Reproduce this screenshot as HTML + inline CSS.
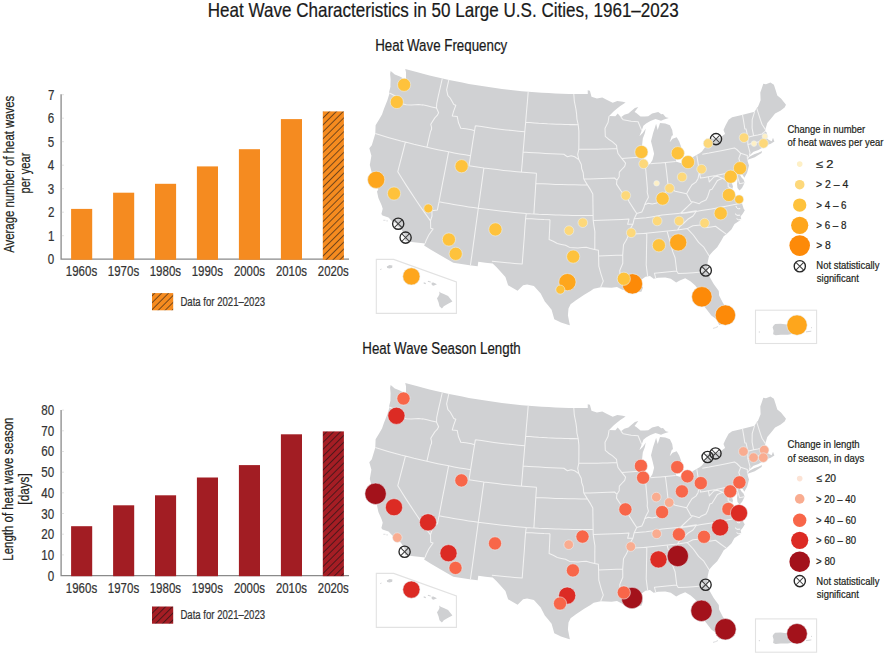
<!DOCTYPE html><html><head><meta charset="utf-8"><title>Heat Wave Characteristics</title><style>html,body{margin:0;padding:0;background:#fff;width:884px;height:653px;overflow:hidden}</style></head><body><svg width="884" height="653" viewBox="0 0 884 653" style="display:block;font-family:'Liberation Sans', sans-serif"><defs><pattern id="hatchO" patternUnits="userSpaceOnUse" width="4.88" height="4.88" patternTransform="rotate(45)"><rect width="4.88" height="4.88" fill="#f68b1f"/><rect x="3.9" width="1.0" height="4.88" fill="#74461a"/></pattern><pattern id="hatchR" patternUnits="userSpaceOnUse" width="4.88" height="4.88" patternTransform="rotate(45)"><rect width="4.88" height="4.88" fill="#a51d24"/><rect x="3.9" width="1.0" height="4.88" fill="#4d171a"/></pattern></defs><rect width="884" height="653" fill="#ffffff"/><text x="207.8" y="17.3" font-size="20.3" fill="#1a1a1a" stroke="#1a1a1a" stroke-width="0.22" textLength="470.94" lengthAdjust="spacingAndGlyphs">Heat Wave Characteristics in 50 Large U.S. Cities, 1961–2023</text><text x="375.21" y="51.2" font-size="16.3" fill="#1a1a1a" stroke="#1a1a1a" stroke-width="0.22" textLength="132.01" lengthAdjust="spacingAndGlyphs">Heat Wave Frequency</text><text x="362.31" y="354.2" font-size="16.3" fill="#1a1a1a" stroke="#1a1a1a" stroke-width="0.22" textLength="158.45" lengthAdjust="spacingAndGlyphs">Heat Wave Season Length</text><path d="M61.1 94.3V259.2H349" stroke="#8a8a8a" stroke-width="1.3" fill="none"/><text x="47.8" y="264.2" font-size="14.5" fill="#333333" stroke="#333333" stroke-width="0.22" textLength="6.45" lengthAdjust="spacingAndGlyphs">0</text><path d="M61.8 235.7H64" stroke="#d0d0d0" stroke-width="0.6"/><text x="47.92" y="240.7" font-size="14.5" fill="#333333" stroke="#333333" stroke-width="0.22" textLength="6.45" lengthAdjust="spacingAndGlyphs">1</text><path d="M61.8 212.2H64" stroke="#d0d0d0" stroke-width="0.6"/><text x="47.93" y="217.2" font-size="14.5" fill="#333333" stroke="#333333" stroke-width="0.22" textLength="6.45" lengthAdjust="spacingAndGlyphs">2</text><path d="M61.8 188.7H64" stroke="#d0d0d0" stroke-width="0.6"/><text x="47.86" y="193.7" font-size="14.5" fill="#333333" stroke="#333333" stroke-width="0.22" textLength="6.45" lengthAdjust="spacingAndGlyphs">3</text><path d="M61.8 165.2H64" stroke="#d0d0d0" stroke-width="0.6"/><text x="47.69" y="170.2" font-size="14.5" fill="#333333" stroke="#333333" stroke-width="0.22" textLength="6.45" lengthAdjust="spacingAndGlyphs">4</text><path d="M61.8 141.7H64" stroke="#d0d0d0" stroke-width="0.6"/><text x="47.84" y="146.7" font-size="14.5" fill="#333333" stroke="#333333" stroke-width="0.22" textLength="6.45" lengthAdjust="spacingAndGlyphs">5</text><path d="M61.8 118.2H64" stroke="#d0d0d0" stroke-width="0.6"/><text x="47.86" y="123.2" font-size="14.5" fill="#333333" stroke="#333333" stroke-width="0.22" textLength="6.45" lengthAdjust="spacingAndGlyphs">6</text><path d="M61.8 94.7H64" stroke="#d0d0d0" stroke-width="0.6"/><text x="47.93" y="99.7" font-size="14.5" fill="#333333" stroke="#333333" stroke-width="0.22" textLength="6.45" lengthAdjust="spacingAndGlyphs">7</text><rect x="71.1" y="208.9" width="21.1" height="50.9" fill="#f58b20"/><text x="65.83" y="276.3" font-size="14.2" fill="#333333" stroke="#333333" stroke-width="0.22" textLength="31.29" lengthAdjust="spacingAndGlyphs">1960s</text><rect x="113.1" y="192.7" width="21.1" height="67.1" fill="#f58b20"/><text x="107.83" y="276.3" font-size="14.2" fill="#333333" stroke="#333333" stroke-width="0.22" textLength="31.29" lengthAdjust="spacingAndGlyphs">1970s</text><rect x="155.0" y="183.8" width="21.1" height="76.0" fill="#f58b20"/><text x="149.73" y="276.3" font-size="14.2" fill="#333333" stroke="#333333" stroke-width="0.22" textLength="31.29" lengthAdjust="spacingAndGlyphs">1980s</text><rect x="196.9" y="166.4" width="21.1" height="93.4" fill="#f58b20"/><text x="191.63" y="276.3" font-size="14.2" fill="#333333" stroke="#333333" stroke-width="0.22" textLength="31.29" lengthAdjust="spacingAndGlyphs">1990s</text><rect x="238.9" y="149.2" width="21.1" height="110.6" fill="#f58b20"/><text x="233.93" y="276.3" font-size="14.2" fill="#333333" stroke="#333333" stroke-width="0.22" textLength="30.98" lengthAdjust="spacingAndGlyphs">2000s</text><rect x="280.9" y="119.1" width="21.1" height="140.7" fill="#f58b20"/><text x="275.93" y="276.3" font-size="14.2" fill="#333333" stroke="#333333" stroke-width="0.22" textLength="30.98" lengthAdjust="spacingAndGlyphs">2010s</text><rect x="322.8" y="111.4" width="21.1" height="148.4" fill="url(#hatchO)"/><text x="317.83" y="276.3" font-size="14.2" fill="#333333" stroke="#333333" stroke-width="0.22" textLength="30.98" lengthAdjust="spacingAndGlyphs">2020s</text><rect x="152" y="293.1" width="21.2" height="17.2" fill="url(#hatchO)"/><text x="180.41" y="306.0" font-size="12.3" fill="#333333" stroke="#333333" stroke-width="0.22" textLength="84.71" lengthAdjust="spacingAndGlyphs">Data for 2021–2023</text><text transform="translate(13.6,252.8) rotate(-90)" x="-0.02" y="0" font-size="15" fill="#231f20" stroke="#231f20" stroke-width="0.22" textLength="157.03" lengthAdjust="spacingAndGlyphs">Average number of heat waves</text><text transform="translate(29.8,192.8) rotate(-90)" x="-0.72" y="0" font-size="15" fill="#231f20" stroke="#231f20" stroke-width="0.22" textLength="40.9" lengthAdjust="spacingAndGlyphs">per year</text><path d="M61.1 410.1V575.6H349" stroke="#8a8a8a" stroke-width="1.3" fill="none"/><text x="47.8" y="580.6" font-size="14.5" fill="#333333" stroke="#333333" stroke-width="0.22" textLength="6.45" lengthAdjust="spacingAndGlyphs">0</text><path d="M61.8 554.9H64" stroke="#d0d0d0" stroke-width="0.6"/><text x="41.35" y="559.91" font-size="14.5" fill="#333333" stroke="#333333" stroke-width="0.22" textLength="12.9" lengthAdjust="spacingAndGlyphs">10</text><path d="M61.8 534.2H64" stroke="#d0d0d0" stroke-width="0.6"/><text x="41.35" y="539.22" font-size="14.5" fill="#333333" stroke="#333333" stroke-width="0.22" textLength="12.9" lengthAdjust="spacingAndGlyphs">20</text><path d="M61.8 513.5H64" stroke="#d0d0d0" stroke-width="0.6"/><text x="41.35" y="518.53" font-size="14.5" fill="#333333" stroke="#333333" stroke-width="0.22" textLength="12.9" lengthAdjust="spacingAndGlyphs">30</text><path d="M61.8 492.8H64" stroke="#d0d0d0" stroke-width="0.6"/><text x="41.35" y="497.84" font-size="14.5" fill="#333333" stroke="#333333" stroke-width="0.22" textLength="12.9" lengthAdjust="spacingAndGlyphs">40</text><path d="M61.8 472.2H64" stroke="#d0d0d0" stroke-width="0.6"/><text x="41.35" y="477.15" font-size="14.5" fill="#333333" stroke="#333333" stroke-width="0.22" textLength="12.9" lengthAdjust="spacingAndGlyphs">50</text><path d="M61.8 451.5H64" stroke="#d0d0d0" stroke-width="0.6"/><text x="41.35" y="456.46" font-size="14.5" fill="#333333" stroke="#333333" stroke-width="0.22" textLength="12.9" lengthAdjust="spacingAndGlyphs">60</text><path d="M61.8 430.8H64" stroke="#d0d0d0" stroke-width="0.6"/><text x="41.35" y="435.77" font-size="14.5" fill="#333333" stroke="#333333" stroke-width="0.22" textLength="12.9" lengthAdjust="spacingAndGlyphs">70</text><path d="M61.8 410.1H64" stroke="#d0d0d0" stroke-width="0.6"/><text x="41.35" y="415.08" font-size="14.5" fill="#333333" stroke="#333333" stroke-width="0.22" textLength="12.9" lengthAdjust="spacingAndGlyphs">80</text><rect x="71.1" y="526.2" width="21.1" height="50.0" fill="#a21d23"/><text x="65.83" y="592.7" font-size="14.2" fill="#333333" stroke="#333333" stroke-width="0.22" textLength="31.29" lengthAdjust="spacingAndGlyphs">1960s</text><rect x="113.1" y="505.3" width="21.1" height="70.9" fill="#a21d23"/><text x="107.83" y="592.7" font-size="14.2" fill="#333333" stroke="#333333" stroke-width="0.22" textLength="31.29" lengthAdjust="spacingAndGlyphs">1970s</text><rect x="155.0" y="495.3" width="21.1" height="80.9" fill="#a21d23"/><text x="149.73" y="592.7" font-size="14.2" fill="#333333" stroke="#333333" stroke-width="0.22" textLength="31.29" lengthAdjust="spacingAndGlyphs">1980s</text><rect x="196.9" y="477.5" width="21.1" height="98.7" fill="#a21d23"/><text x="191.63" y="592.7" font-size="14.2" fill="#333333" stroke="#333333" stroke-width="0.22" textLength="31.29" lengthAdjust="spacingAndGlyphs">1990s</text><rect x="238.9" y="465.1" width="21.1" height="111.1" fill="#a21d23"/><text x="233.93" y="592.7" font-size="14.2" fill="#333333" stroke="#333333" stroke-width="0.22" textLength="30.98" lengthAdjust="spacingAndGlyphs">2000s</text><rect x="280.9" y="434.3" width="21.1" height="141.9" fill="#a21d23"/><text x="275.93" y="592.7" font-size="14.2" fill="#333333" stroke="#333333" stroke-width="0.22" textLength="30.98" lengthAdjust="spacingAndGlyphs">2010s</text><rect x="322.8" y="431.4" width="21.1" height="144.8" fill="url(#hatchR)"/><text x="317.83" y="592.7" font-size="14.2" fill="#333333" stroke="#333333" stroke-width="0.22" textLength="30.98" lengthAdjust="spacingAndGlyphs">2020s</text><rect x="152" y="606.5" width="21.2" height="17.2" fill="url(#hatchR)"/><text x="180.41" y="619.4" font-size="12.3" fill="#333333" stroke="#333333" stroke-width="0.22" textLength="84.71" lengthAdjust="spacingAndGlyphs">Data for 2021–2023</text><text transform="translate(13.3,559.7) rotate(-90)" x="-0.94" y="0" font-size="15" fill="#231f20" stroke="#231f20" stroke-width="0.22" textLength="143.08" lengthAdjust="spacingAndGlyphs">Length of heat wave season</text><text transform="translate(29.4,503.8) rotate(-90)" x="-0.84" y="0" font-size="15" fill="#231f20" stroke="#231f20" stroke-width="0.22" textLength="31.38" lengthAdjust="spacingAndGlyphs">[days]</text><g id="mapbase"><path d="M390.7 71.1L394.8 74.5L399.9 76.6L402.6 78.1L402.4 82.7L399.6 86.1L402.2 85.8L404.1 82.7L406 78.5L406 72.3L405.2 69L410.9 70.6L416.6 72.1L423 73.8L429.5 75.5L436 77L442.6 78.5L449.1 80L455.7 81.3L462.2 82.6L468.8 83.9L475.4 85L482 86.1L488.6 87.1L495.3 88.1L501.9 89L508.6 89.8L515.2 90.5L521.9 91.2L528.6 91.8L535.2 92.3L541.9 92.8L548.6 93.1L555.3 93.5L562 93.7L568.7 93.9L575.4 94L581.6 94L587.8 94L587.7 90.2L589.9 90.8L591.5 96.7L596.9 98.6L602.3 97.5L607.1 100L612.7 102.8L617.3 101L622.8 101.7L625.6 102.6L620.3 105.9L617.1 108.6L613.8 111.2L609.1 116L615.4 116.2L617.7 113.6L621 117.2L624.3 114.7L628.4 113.4L631 111.2L634.9 107.9L638.3 107.1L634.5 111.9L636 112.8L640.5 116.5L644.7 116.6L648.2 116.2L652.1 113.5L658.2 111.9L661.3 114.3L663 114.1L665.8 117.3L668.8 117.9L664 119.5L661 120.7L655.5 119L650.4 121.1L646.1 123.5L643.4 125.8L641.7 130.5L639.4 136.3L642.7 133L645.8 128.6L644.8 133.3L642.8 138.5L642.2 144.2L641.4 151.4L643.5 158.8L644.5 163L646.3 165.5L650 164.1L652.5 160L654.1 153.7L652.8 148.3L651 141.3L652.1 137.1L653.1 133L654.6 128.4L656.1 123.8L657.7 129.9L660 123L665.3 123.4L669.9 125.3L672.2 129.9L673 135.3L671.8 135.8L669.7 142.2L672.6 138.8L676.7 137.2L679.2 141.5L681.3 147.3L680.6 151.5L677.7 154.7L677 158.1L675.6 161.4L681.5 163.2L685.2 162.4L688.8 161.6L693.4 156.8L699.6 153.2L701.9 151.5L704.5 147.9L707 144.3L705.3 140.7L709 139.6L712.6 138.5L715.7 138.9L720.6 137.4L723.2 135.3L725.1 133.9L723.5 130.1L725.5 125.5L728.6 119.7L732.1 117.3L736.5 116.3L740.8 115.2L747.7 113.5L754.6 111.7L756.7 108.1L758 106.7L760.6 100.2L760.3 92.5L761.8 88.2L763.3 83.8L765.9 84.3L770.4 82.6L773.9 84.7L775.6 90.1L777.3 95.5L781 98.4L786 104.8L784.6 107.4L780.4 110.8L775.1 113.4L771.3 118.2L767.3 123L765.3 129.4L765.1 131.3L767.1 133.1L765 136.8L769 139.9L771.7 141.3L773 137.8L774.4 141.4L770.8 143.7L766.6 145.3L764.5 146.4L758.4 149.9L753.5 151.8L749.3 155.5L747.3 158.5L747.7 161.6L749 165.5L747.1 172.7L744.3 177.7L742.9 175.2L739.8 173.8L738.3 172.1L740.2 175.3L741.5 177.6L743.5 179.5L744.5 182.2L744 184L742 188L739.5 190.5L737.5 188L737 184L737.5 180L736 176L733 177L731.5 181.9L733 186.5L732 190L734 194L737 197.6L740.6 199.7L742.1 203.8L743.7 208.8L744.8 210.3L742.9 213.4L740.6 216.4L741.4 219.5L739.1 221L734.5 224.1L731.4 229.4L726.7 234.1L723.7 236.2L721.2 240.8L717.2 247.2L712.8 251.5L709.1 255.7L707.6 262.6L707.4 269.8L708.4 273.2L710 277.6L713.7 284.1L718.8 290.9L719.1 295.5L723 303L726.1 307.5L726.7 316.6L725.4 322.8L719.2 324.9L716.5 319.2L711.3 315.5L706.7 309.6L701.7 303.2L699.6 298.4L699.6 291.3L695.2 285.5L690.7 281.5L685.2 278.3L679.8 280.6L676.2 282.4L670.8 278.7L665.3 277.4L658.1 277.8L653.6 278.7L650 276L645.4 276.8L641 280L638.1 281.5L639.6 284.5L643.1 287.3L641.4 291.8L636 292L629 290L622.4 289.8L617 287L611.6 287.7L606.2 287.4L600.7 287.2L593.7 288.7L590.9 290.7L584.2 294.8L580.1 297.5L576 300.2L570.6 304.3L568.5 308.4L567.9 315.2L569.2 321.9L569.9 325.3L567.9 324.7L561 322.5L554.3 319.2L551.6 309.7L548.2 305.6L544.8 301.6L540.7 293.4L537.3 289.7L533.9 286L527.1 284.6L523.1 285.3L517.6 290.7L512.8 288L508.1 285.3L505.4 277.1L500 271L496.6 267.3L492.7 263.5L485.5 262.7L478.3 261.8L477.7 266.3L469.5 265.2L461.4 264L453.3 262.8L445.9 258.6L438.6 254.3L431.3 249.9L424.1 245.5L425.2 243.4L418.5 242.7L411.7 241.9L405 241.1L404.7 237.7L404.8 235.1L401.1 229.1L399 227L397.4 226.6L397.1 223.9L392.6 221.8L388.5 217.6L382.5 215.5L381.4 213.9L382.7 208.8L381.7 205.6L378.4 198.1L377 191.4L378.3 189.6L377.2 187.6L374.8 184.4L375.7 178.3L372.5 175.3L371.1 170.1L369.8 164.9L371.4 155.8L369.3 148.3L371.8 145.3L374.6 136.1L375.3 133.6L375.6 125.2L378.8 119.9L382 114.5L384 108.7L387.4 100.3L389.6 93L389 92.4L390.5 86.5L390.4 85.4L390.6 79.2L390.1 73.8ZM747.6 159.8L754.8 157.3L761.6 152.9L762.1 151L758.4 152.7L754.1 154.3L749 157.1Z" fill="#d0d1d3" fill-rule="evenodd"/><path d="M389.6 93L394.3 95.5L396.2 96.6L396.2 99.7L395.9 101.2L399.4 103.3L402.9 104L406.3 104.7L411.4 105L415 104.8L418.7 104.6L422.2 105.1L422.5 104.7L427.1 105.8L431.8 106.9L436.5 108M436.5 108L438.6 112.8L437.2 115.4L434.8 117.9L430.8 124.3L431.6 127.6L431.5 129.6L430.5 131.5L428.7 139.4L426.9 147.3M442.3 78.5L440.4 86.8L438.5 95.2L436.7 103.6L436.5 108M448.8 79.9L447.7 84.9L446.6 89.9L447.9 95.6L450.2 98L453.8 104.4L455.8 105.3L453.5 111.6L452.3 115.9L457.2 116.4L458.5 122.8L460.8 128.3L465.8 128.7L471.5 129.7L474.6 130.7M475.4 125.7L474.6 130.7L473.2 139L471.9 147.3L470.6 155.7L469 165.7M475.4 125.7L481.5 126.6L487.7 127.5L493.9 128.4L500 129.2L506.2 129.9L512.4 130.6L518.6 131.2L524.8 131.7M426.9 147.3L432.3 148.5L437.8 149.7L443.2 150.8L448.7 151.8L454.1 152.9L459.6 153.9L465.1 154.8L470.6 155.7M375.3 133.6L381.7 135.5L388.1 137.4L394.5 139.2L400.9 141L407.4 142.6L413.9 144.3L420.4 145.8L426.9 147.3M405.4 142.1L402.9 152L400.3 161.8L397.8 171.7L402.1 178.8L406.6 185.9L411.2 192.9L415.9 200L420.6 207L425.5 213.9L430.5 220.9M430.5 220.9L432 216L431.9 210.8L437.4 209.9L439 201.8M430.5 220.9L430.7 228.2L433.1 228.9L428.8 235L426 240.7L425.2 243.4M448.6 151.8L446.7 161.8L444.8 171.8L442.8 181.8L440.9 191.8L439 201.8M439 201.8L443.9 202.7L448.8 203.6L453.7 204.5L458.6 205.3L463.5 206.1L468.5 206.9L473.4 207.6L478.3 208.3M469 165.7L473.9 166.5L478.9 167.3L483.9 168M483.9 168L482.5 178L481.1 188.1L479.7 198.2L478.3 208.3L477 217.8L475.7 227.3L474.4 236.9L473.1 246.4L471.8 255.9L470.4 265.3M483.9 168L490.4 168.8L497 169.6L503.6 170.4L510.1 171.1L516.7 171.7L523.3 172.3L529.9 172.8L536.5 173.3M478.3 208.3L484.3 209.1L490.3 209.8L496.3 210.5L502.3 211.2L508.3 211.8L514.3 212.4L520.3 212.9L526.3 213.4M536.5 173.3L535.8 183.4L535.2 193.6L534.5 203.7L533.9 213.9M535.8 183.4L542.3 183.8L548.7 184.1L555.2 184.4L561.6 184.6L568.1 184.7L574.5 184.8L581 184.9L587.4 184.9M526.3 213.4L530.5 213.7L534.6 213.9L538.8 214.2L543 214.4L547.2 214.6L551.3 214.8L555.5 215L559.7 215.1L563.9 215.2L568 215.3L572.2 215.4L576.4 215.4L580.6 215.4L584.7 215.4L588.9 215.4L593.1 215.3M526.3 213.4L525.6 218.4L524.9 227.6L524.3 236.7L523.6 245.8L522.9 254.9L522.2 264L514.6 263.4L507 262.7L499.5 262L491.9 261.2M525.6 218.4L531.7 218.8L537.8 219.2L543.9 219.6L550 219.8M550 219.8L549.6 229.7L549.1 239.6L553.2 241.3L557.3 243.5L561.4 244.4L565.5 245.3L569.6 247.4L573.8 247.7L577.9 248L582.1 247.6L586.2 247.2L590.4 248.4L594.6 249.5L598.4 250.3L598.6 255.7L598.7 260.9L598.8 266.1L601 274.1L603.3 281.1L600.7 287.2M598.6 255.9L604.6 255.8L610.7 255.6L616.7 255.3L622.7 255.1M622.7 255.1L622.8 263.2L619.8 270.4L620 275.5L628 275.1L636.1 274.6L636.2 278.6L638.1 281.5M593.1 215.3L593.2 220.4L594 226.1L594.9 231.7L594.8 240.6L594.8 249.5M593.1 215.3L593 208.2L592.9 201.1L592.8 194L590.6 189.9L587.4 184.9L583.8 179M593.2 220.4L600.3 220.3L607.5 220.1L614.7 219.8L621.9 219.5L629 219.1L627.6 224.3L633 223.9M583.8 179L590 178.9L596.1 178.8L602.2 178.6L608.4 178.3L614.5 178L616.9 180.2M583.8 179L583.2 172.7L581.7 168.6L581.3 164.5L578.8 159.6L577.7 154.4L578.8 149.3M578.8 159.6L574.7 156.7L571.1 155.8L567.4 156.7L563.8 154.2L557.6 154L551.5 153.7L545.4 153.4L539.9 153.1L534.3 152.8L528.7 152.4L523.1 151.9M578.8 149.3L583.6 149.3L588.3 149.3L593.1 149.2L597.8 149.2L602.6 149L607.4 148.9L612.1 148.7L616.9 148.5M578.8 149.3L578.9 140.2L578.9 131.1L578.2 124.7L576.9 119L576.6 114L575.9 109L574.3 101L573.8 94M525.6 122.3L530 122.6L534.4 123L538.7 123.3L543.1 123.5L547.5 123.8L551.9 124L556.2 124.2L560.6 124.3L565 124.5L569.4 124.6L573.8 124.6L578.2 124.7M528.2 91.7L527.4 101.7L526.5 111.7L525.7 121.7L524.8 131.7L524 141.8L523.1 151.9L522.3 162L521.4 172.1M609.1 116L608 122.6L605 128.2L605.3 136.3L608.6 139.2L612.3 141.6L616.5 145.4L616.9 148.5L618 153.5L621.7 158.4L625.6 163.2L624.7 166.3L622.2 169L619.3 172.2L619.2 176.8L616.9 180.2L616.5 184.1L620.7 190.5L624 194.9L627.5 197.7L629.1 201.7L633.5 208.6L636.7 213.5L634.2 218.7L633 223.9L630.1 229.2L628.7 234.4L626.6 239.6L623.5 244.8L623.1 250L622.7 255.1M621.7 158.4L628.6 157.9L635.6 157.4L642.6 156.9M620.9 117.2L623.3 119.8L627.2 120.5L631.1 121.3L634.6 121.5L638.1 121.7L641.7 130.5M645.2 164.2L646 172.3L646.7 180.4L647.4 188.6L647.2 192.2L648.4 197.2L645.7 202.5L644.7 204.7L643.8 207.8L641.8 212L636.7 213.5M650.5 163.7L655.5 163.3L660.5 162.9L665.6 162.5L670.6 162L675.6 161.4M665.4 162.5L666.5 171.3L667.5 180.1L668.5 188.9M668.5 188.9L664.5 193.5L662.3 198.1L658.3 201.3L656.9 203L652.2 204L648.2 203.3L644.7 204.7M668.5 188.9L671 188.7L675.2 191.2L680.9 192.5L686.6 193.8L689.1 189.3L692 184.8L695.9 182.1L698 178.7L699.1 173.3L699 168.8L697.9 162.1L696.8 155.4M686.6 193.8L690.9 201.4L692.8 201.7L699.3 203.7L701.4 201.9L705.9 200.1L707.7 196.7L709.8 190.1L712 189.2L714.5 185.2L717.5 180.4L721.9 178.6L722.5 178.3M722.5 178.3L717.5 176.3L713.8 177L709.3 181.9L708.4 176.7L704.5 177.4L700.5 178.1L699 168.8M708.4 176.7L715.9 175.4L723.3 173.9L729.8 172.6L736.2 171.3L736.7 173.5L738.1 178.6L739.6 183.7L744.2 182.7M736.2 171.3L738.9 169.5M738.9 169.5L740.8 167.4L743.3 165.2L740 162.3L738.8 158.4L740.7 153.3L747.4 155.4L747.3 158.5M702.3 154.2L709.1 153.1L715.8 151.8L722.5 150.5L728.5 149.2L734.4 147.9L736.8 149.5L740.7 153.3M742.5 114.8L743.4 119.8L744.2 124.9L744.8 128.9L746 128.9L747.9 137L747.8 144.3L750 152.7L749.3 155.5M754.6 111.7L752.2 119.7L752.1 128.1L753.6 135.8M747.9 137.2L753.6 135.8L757.8 134.9L762 133.9L765.1 131.3M747.9 144.5L754 143.1L760.2 141.5L763.2 140.8L763.5 141.9L765.9 144.4M760.2 141.5L762 148.6M756.7 108.1L758.7 114.4L760.7 120.6L762.1 124.5L765.3 129.4M722.5 178.3L728 181.5L728.2 186.7L732.3 189M680.7 213.6L685.8 212.9L691 212.2L696.2 211.4L701.3 210.6L706.5 209.8L711.6 208.9L716.8 208L721.9 207.1L727.1 206.1L732.2 205.1L737.3 204L742.4 203M634.2 218.7L640.2 218.3L646.2 217.8L651.5 216.9L656.8 216L662.1 215.1L667.4 214.6L672.7 214L678.1 213.4L680.6 213.1L686 212.4L691.3 211.6L696.7 210.8M680.6 213.1L684.5 209.5L688.3 205.9L692.8 201.7M696.7 210.8L693 216L687.8 219.3L683.4 223.5L679.7 226.6L677.5 230M687.3 228.6L692.8 225.8L698.3 225.3L703.8 224.7L704.8 226L706.5 227.6L711 227L715.5 226.3L720.9 230.2L726.3 234.1M677.5 230L682.4 229.3L687.3 228.6M687.3 228.6L693.3 235L698.6 242.4L703.5 246.8L706.3 251.3L709.1 255.7M628.7 234.4L633.6 234.1L638.5 233.7L643.4 233.4L648.3 233L653.2 232.5L658 232.1L662.9 231.6L667.8 231L672.6 230.5L677.5 229.9M645.9 233.2L646.8 234.1L646.7 241.8L646.5 249.4L646.4 257.1L646.2 264.7L646.9 270.6L647.7 276.5M667.1 231.1L669 238.1L670.9 245L672.8 251.9L675.1 257.8L675.9 264.3L676.7 270.9M676.7 270.9L669.2 271.7L661.8 272.5L654.4 273.2L655.7 278.1M676.7 270.9L678.2 273.6L685.9 273.2L693.5 272.7L701.2 272.1L702.6 269.5L707.4 269.8" fill="none" stroke="#f2f2f2" stroke-width="1.05" stroke-linejoin="round"/><path d="M736 206.3Q736.6 209.4 739.8 208.7M735.2 214Q736.4 216.2 739.8 215.3M736.8 219Q738.4 220.7 741.4 219.5" fill="none" stroke="#ffffff" stroke-width="0.9" stroke-linecap="round"/><path d="M713 328.4Q715.5 327.9 718 326.5" fill="none" stroke="#d2d3d5" stroke-width="0.8"/><path d="M376.3 259.4H393.7L456.4 282V313.4H376.3Z" fill="none" stroke="#e2e2e2" stroke-width="1.1"/><path d="M439.2 291.6L440.7 292.8 443.8 294 448.1 295.9 452.4 301.4 448.1 303.8 443.8 306.3 441.9 308.4 439.5 306.3 438.6 302.6 437 298.3 438.3 296.5 439.5 294ZM431.5 282.7L433.4 282.4 437 284.2 433.4 285.8 431.8 284.9Z M428 280.8L431 281.8 430.5 282.6 427.8 281.8Z M423.8 282.3L425.9 283 425.6 284.2 423.6 283.4ZM386.8 266.5L389.5 265 392.4 265.6 392.2 267.8 389.5 268.6 387.2 268Z M380 269.5L381.3 268.6 381.6 269.2 380.4 270Z" fill="#cfd0d2"/><path d="M383.3 220.3h2.2M386.3 220.9h1.6" stroke="#d6d7d9" stroke-width="0.8"/></g><rect x="755.5" y="310.2" width="61.1" height="33.3" fill="none" stroke="#e2e2e2" stroke-width="1.1"/><path d="M772.6 327.2L773.6 325.6 775.1 324.1 780.7 323.8 786.8 324.6 792 325.5 796 328 796.5 333.5 793 333.8 787.9 334.8 780.7 334.8 775.6 335.3 773.1 334.3 773.6 330.7Z" fill="#cfd0d2"/><path d="M806 331.9L811.3 331.2M811 327.7h1M758.8 332h1.2" stroke="#cfd0d2" stroke-width="0.9"/><circle cx="398.2" cy="223.7" r="5.6" fill="none" stroke="#262626" stroke-width="1.35"/><path d="M394.3 219.8L402.1 227.6M402.1 219.8L394.3 227.6" stroke="#404040" stroke-width="1.05"/><circle cx="405.6" cy="237.6" r="5.6" fill="none" stroke="#262626" stroke-width="1.35"/><path d="M401.7 233.7L409.5 241.5M409.5 233.7L401.7 241.5" stroke="#404040" stroke-width="1.05"/><circle cx="716" cy="139.1" r="5.6" fill="none" stroke="#262626" stroke-width="1.35"/><path d="M712.1 135.2L719.9 143.0M719.9 135.2L712.1 143.0" stroke="#404040" stroke-width="1.05"/><circle cx="705.8" cy="270.5" r="5.6" fill="none" stroke="#262626" stroke-width="1.35"/><path d="M701.9 266.6L709.7 274.4M709.7 266.6L701.9 274.4" stroke="#404040" stroke-width="1.05"/><circle cx="404.1" cy="84.8" r="6.6" fill="#fec23c" stroke="#e9f0f4" stroke-opacity="0.7" stroke-width="0.8"/><circle cx="396.8" cy="102" r="6.6" fill="#fec23c" stroke="#e9f0f4" stroke-opacity="0.7" stroke-width="0.8"/><circle cx="376.2" cy="179.8" r="8.6" fill="#fea61c" stroke="#e9f0f4" stroke-opacity="0.7" stroke-width="0.8"/><circle cx="394" cy="193.5" r="6.6" fill="#fec23c" stroke="#e9f0f4" stroke-opacity="0.7" stroke-width="0.8"/><circle cx="461.6" cy="166.2" r="6.6" fill="#fec23c" stroke="#e9f0f4" stroke-opacity="0.7" stroke-width="0.8"/><circle cx="428.3" cy="208.4" r="4.5" fill="#fec23c" stroke="#e9f0f4" stroke-opacity="0.7" stroke-width="0.8"/><circle cx="448.9" cy="239.5" r="6.6" fill="#fec23c" stroke="#e9f0f4" stroke-opacity="0.7" stroke-width="0.8"/><circle cx="455.7" cy="253.8" r="6.6" fill="#fec23c" stroke="#e9f0f4" stroke-opacity="0.7" stroke-width="0.8"/><circle cx="495.4" cy="229.4" r="6.6" fill="#fec23c" stroke="#e9f0f4" stroke-opacity="0.7" stroke-width="0.8"/><circle cx="641.4" cy="152" r="6.6" fill="#fec23c" stroke="#e9f0f4" stroke-opacity="0.7" stroke-width="0.8"/><circle cx="643.6" cy="163.8" r="4.8" fill="#fdd87a" stroke="#e9f0f4" stroke-opacity="0.7" stroke-width="0.8"/><circle cx="625.8" cy="195.5" r="4.8" fill="#fdd87a" stroke="#e9f0f4" stroke-opacity="0.7" stroke-width="0.8"/><circle cx="656.6" cy="183.3" r="2.8" fill="#fef0c6" stroke="#e9f0f4" stroke-opacity="0.7" stroke-width="0.8"/><circle cx="582.8" cy="222.7" r="4.8" fill="#fdd87a" stroke="#e9f0f4" stroke-opacity="0.7" stroke-width="0.8"/><circle cx="569" cy="230.6" r="4.8" fill="#fdd87a" stroke="#e9f0f4" stroke-opacity="0.7" stroke-width="0.8"/><circle cx="631.2" cy="232.8" r="4.8" fill="#fdd87a" stroke="#e9f0f4" stroke-opacity="0.7" stroke-width="0.8"/><circle cx="573.2" cy="256.6" r="6.6" fill="#fec23c" stroke="#e9f0f4" stroke-opacity="0.7" stroke-width="0.8"/><circle cx="567.4" cy="282.1" r="8.6" fill="#fea61c" stroke="#e9f0f4" stroke-opacity="0.7" stroke-width="0.8"/><circle cx="560.3" cy="289.6" r="4.5" fill="#fec23c" stroke="#e9f0f4" stroke-opacity="0.7" stroke-width="0.8"/><circle cx="632.4" cy="283.9" r="10.2" fill="#fd8a08" stroke="#e9f0f4" stroke-opacity="0.7" stroke-width="0.8"/><circle cx="623.8" cy="278.8" r="6.6" fill="#fec23c" stroke="#e9f0f4" stroke-opacity="0.7" stroke-width="0.8"/><circle cx="677.8" cy="153.2" r="6.6" fill="#fec23c" stroke="#e9f0f4" stroke-opacity="0.7" stroke-width="0.8"/><circle cx="688" cy="162.1" r="6.6" fill="#fec23c" stroke="#e9f0f4" stroke-opacity="0.7" stroke-width="0.8"/><circle cx="701.6" cy="169.2" r="4.8" fill="#fdd87a" stroke="#e9f0f4" stroke-opacity="0.7" stroke-width="0.8"/><circle cx="708.1" cy="143.4" r="4.8" fill="#fdd87a" stroke="#e9f0f4" stroke-opacity="0.7" stroke-width="0.8"/><circle cx="744" cy="137.7" r="4.8" fill="#fdd87a" stroke="#e9f0f4" stroke-opacity="0.7" stroke-width="0.8"/><circle cx="764.9" cy="136.3" r="2.8" fill="#fef0c6" stroke="#e9f0f4" stroke-opacity="0.7" stroke-width="0.8"/><circle cx="754" cy="143.6" r="2.8" fill="#fef0c6" stroke="#e9f0f4" stroke-opacity="0.7" stroke-width="0.8"/><circle cx="763.5" cy="143.4" r="4.8" fill="#fdd87a" stroke="#e9f0f4" stroke-opacity="0.7" stroke-width="0.8"/><circle cx="740" cy="168.2" r="6.6" fill="#fec23c" stroke="#e9f0f4" stroke-opacity="0.7" stroke-width="0.8"/><circle cx="730.7" cy="176.7" r="6.6" fill="#fec23c" stroke="#e9f0f4" stroke-opacity="0.7" stroke-width="0.8"/><circle cx="682.1" cy="177" r="4.8" fill="#fdd87a" stroke="#e9f0f4" stroke-opacity="0.7" stroke-width="0.8"/><circle cx="669.6" cy="188.3" r="4.8" fill="#fdd87a" stroke="#e9f0f4" stroke-opacity="0.7" stroke-width="0.8"/><circle cx="662.6" cy="198.6" r="6.6" fill="#fec23c" stroke="#e9f0f4" stroke-opacity="0.7" stroke-width="0.8"/><circle cx="728.9" cy="195" r="6.6" fill="#fec23c" stroke="#e9f0f4" stroke-opacity="0.7" stroke-width="0.8"/><circle cx="739.1" cy="199.4" r="4.5" fill="#fec23c" stroke="#e9f0f4" stroke-opacity="0.7" stroke-width="0.8"/><circle cx="720.7" cy="213.3" r="6.6" fill="#fec23c" stroke="#e9f0f4" stroke-opacity="0.7" stroke-width="0.8"/><circle cx="657.2" cy="221" r="4.8" fill="#fdd87a" stroke="#e9f0f4" stroke-opacity="0.7" stroke-width="0.8"/><circle cx="679.1" cy="221" r="4.8" fill="#fdd87a" stroke="#e9f0f4" stroke-opacity="0.7" stroke-width="0.8"/><circle cx="704.6" cy="223.1" r="4.8" fill="#fdd87a" stroke="#e9f0f4" stroke-opacity="0.7" stroke-width="0.8"/><circle cx="658.9" cy="245.3" r="6.6" fill="#fec23c" stroke="#e9f0f4" stroke-opacity="0.7" stroke-width="0.8"/><circle cx="678.2" cy="242.4" r="8.6" fill="#fea61c" stroke="#e9f0f4" stroke-opacity="0.7" stroke-width="0.8"/><circle cx="701.9" cy="296.8" r="10.2" fill="#fd8a08" stroke="#e9f0f4" stroke-opacity="0.7" stroke-width="0.8"/><circle cx="725.4" cy="315.1" r="10.2" fill="#fd8a08" stroke="#e9f0f4" stroke-opacity="0.7" stroke-width="0.8"/><circle cx="411.4" cy="276.4" r="8.6" fill="#fea61c" stroke="#e9f0f4" stroke-opacity="0.7" stroke-width="0.8"/><circle cx="797" cy="325.1" r="10.2" fill="#fea61c" stroke="#e9f0f4" stroke-opacity="0.7" stroke-width="0.8"/><use href="#mapbase" transform="translate(0,314)"/><g transform="translate(0,308.7)"><rect x="755.5" y="310.2" width="61.1" height="33.3" fill="none" stroke="#e2e2e2" stroke-width="1.1"/><path d="M772.6 327.2L773.6 325.6 775.1 324.1 780.7 323.8 786.8 324.6 792 325.5 796 328 796.5 333.5 793 333.8 787.9 334.8 780.7 334.8 775.6 335.3 773.1 334.3 773.6 330.7Z" fill="#cfd0d2"/><path d="M806 331.9L811.3 331.2M811 327.7h1M758.8 332h1.2" stroke="#cfd0d2" stroke-width="0.9"/></g><circle cx="404.6" cy="551.7" r="5.6" fill="none" stroke="#262626" stroke-width="1.35"/><path d="M400.7 547.8L408.5 555.6M408.5 547.8L400.7 555.6" stroke="#404040" stroke-width="1.05"/><circle cx="707.6" cy="457" r="5.6" fill="none" stroke="#262626" stroke-width="1.35"/><path d="M703.7 453.1L711.5 460.9M711.5 453.1L703.7 460.9" stroke="#404040" stroke-width="1.05"/><circle cx="715.5" cy="453.4" r="5.6" fill="none" stroke="#262626" stroke-width="1.35"/><path d="M711.6 449.5L719.4 457.3M719.4 449.5L711.6 457.3" stroke="#404040" stroke-width="1.05"/><circle cx="705.6" cy="584.7" r="5.6" fill="none" stroke="#262626" stroke-width="1.35"/><path d="M701.7 580.8L709.5 588.6M709.5 580.8L701.7 588.6" stroke="#404040" stroke-width="1.05"/><circle cx="403.5" cy="398.5" r="6.6" fill="#f86649" stroke="#e9f0f4" stroke-opacity="0.7" stroke-width="0.8"/><circle cx="396.4" cy="415.8" r="8.6" fill="#dc2b24" stroke="#e9f0f4" stroke-opacity="0.7" stroke-width="0.8"/><circle cx="375.6" cy="493.8" r="10.7" fill="#a3121b" stroke="#e9f0f4" stroke-opacity="0.7" stroke-width="0.8"/><circle cx="394" cy="507.2" r="8.6" fill="#dc2b24" stroke="#e9f0f4" stroke-opacity="0.7" stroke-width="0.8"/><circle cx="461.4" cy="480.4" r="6.6" fill="#f86649" stroke="#e9f0f4" stroke-opacity="0.7" stroke-width="0.8"/><circle cx="428" cy="522.3" r="8.6" fill="#dc2b24" stroke="#e9f0f4" stroke-opacity="0.7" stroke-width="0.8"/><circle cx="397.3" cy="537.6" r="4.8" fill="#f9ac90" stroke="#e9f0f4" stroke-opacity="0.7" stroke-width="0.8"/><circle cx="448.5" cy="553.2" r="8.6" fill="#dc2b24" stroke="#e9f0f4" stroke-opacity="0.7" stroke-width="0.8"/><circle cx="455.5" cy="567.9" r="6.6" fill="#f86649" stroke="#e9f0f4" stroke-opacity="0.7" stroke-width="0.8"/><circle cx="495" cy="543.4" r="6.6" fill="#f86649" stroke="#e9f0f4" stroke-opacity="0.7" stroke-width="0.8"/><circle cx="640.9" cy="465.9" r="6.6" fill="#f86649" stroke="#e9f0f4" stroke-opacity="0.7" stroke-width="0.8"/><circle cx="643.1" cy="477.7" r="6.6" fill="#f86649" stroke="#e9f0f4" stroke-opacity="0.7" stroke-width="0.8"/><circle cx="625.4" cy="509.4" r="6.6" fill="#f86649" stroke="#e9f0f4" stroke-opacity="0.7" stroke-width="0.8"/><circle cx="656.3" cy="497.1" r="4.8" fill="#f9ac90" stroke="#e9f0f4" stroke-opacity="0.7" stroke-width="0.8"/><circle cx="582.5" cy="536.6" r="6.6" fill="#f86649" stroke="#e9f0f4" stroke-opacity="0.7" stroke-width="0.8"/><circle cx="568.7" cy="544.7" r="4.8" fill="#f9ac90" stroke="#e9f0f4" stroke-opacity="0.7" stroke-width="0.8"/><circle cx="630.8" cy="546.6" r="4.8" fill="#f9ac90" stroke="#e9f0f4" stroke-opacity="0.7" stroke-width="0.8"/><circle cx="572.9" cy="570.4" r="6.6" fill="#f86649" stroke="#e9f0f4" stroke-opacity="0.7" stroke-width="0.8"/><circle cx="567.2" cy="595.6" r="8.6" fill="#dc2b24" stroke="#e9f0f4" stroke-opacity="0.7" stroke-width="0.8"/><circle cx="560" cy="603.5" r="6.6" fill="#f86649" stroke="#e9f0f4" stroke-opacity="0.7" stroke-width="0.8"/><circle cx="632" cy="598" r="10.7" fill="#a3121b" stroke="#e9f0f4" stroke-opacity="0.7" stroke-width="0.8"/><circle cx="623.8" cy="592.5" r="6.6" fill="#f86649" stroke="#e9f0f4" stroke-opacity="0.7" stroke-width="0.8"/><circle cx="677.2" cy="467.1" r="6.6" fill="#f86649" stroke="#e9f0f4" stroke-opacity="0.7" stroke-width="0.8"/><circle cx="687.4" cy="476.3" r="6.6" fill="#f86649" stroke="#e9f0f4" stroke-opacity="0.7" stroke-width="0.8"/><circle cx="700.8" cy="483.1" r="6.6" fill="#f86649" stroke="#e9f0f4" stroke-opacity="0.7" stroke-width="0.8"/><circle cx="743.4" cy="451.5" r="4.8" fill="#f9ac90" stroke="#e9f0f4" stroke-opacity="0.7" stroke-width="0.8"/><circle cx="764.2" cy="450.1" r="4.8" fill="#f9ac90" stroke="#e9f0f4" stroke-opacity="0.7" stroke-width="0.8"/><circle cx="753.5" cy="457.6" r="4.8" fill="#f9ac90" stroke="#e9f0f4" stroke-opacity="0.7" stroke-width="0.8"/><circle cx="763.3" cy="457.6" r="4.8" fill="#f9ac90" stroke="#e9f0f4" stroke-opacity="0.7" stroke-width="0.8"/><circle cx="739.4" cy="482.4" r="6.6" fill="#f86649" stroke="#e9f0f4" stroke-opacity="0.7" stroke-width="0.8"/><circle cx="730.2" cy="491.4" r="6.6" fill="#f86649" stroke="#e9f0f4" stroke-opacity="0.7" stroke-width="0.8"/><circle cx="681.9" cy="491.4" r="6.6" fill="#f86649" stroke="#e9f0f4" stroke-opacity="0.7" stroke-width="0.8"/><circle cx="669.2" cy="502.6" r="4.8" fill="#f9ac90" stroke="#e9f0f4" stroke-opacity="0.7" stroke-width="0.8"/><circle cx="662.1" cy="512.1" r="6.6" fill="#f86649" stroke="#e9f0f4" stroke-opacity="0.7" stroke-width="0.8"/><circle cx="728.4" cy="509" r="6.6" fill="#f86649" stroke="#e9f0f4" stroke-opacity="0.7" stroke-width="0.8"/><circle cx="739" cy="513.1" r="8.6" fill="#dc2b24" stroke="#e9f0f4" stroke-opacity="0.7" stroke-width="0.8"/><circle cx="720.1" cy="527.4" r="8.6" fill="#dc2b24" stroke="#e9f0f4" stroke-opacity="0.7" stroke-width="0.8"/><circle cx="656.7" cy="533.8" r="4.8" fill="#f9ac90" stroke="#e9f0f4" stroke-opacity="0.7" stroke-width="0.8"/><circle cx="678.9" cy="534.4" r="6.6" fill="#f86649" stroke="#e9f0f4" stroke-opacity="0.7" stroke-width="0.8"/><circle cx="704" cy="536.8" r="6.6" fill="#f86649" stroke="#e9f0f4" stroke-opacity="0.7" stroke-width="0.8"/><circle cx="658.5" cy="559.4" r="8.6" fill="#dc2b24" stroke="#e9f0f4" stroke-opacity="0.7" stroke-width="0.8"/><circle cx="677.8" cy="556" r="10.7" fill="#a3121b" stroke="#e9f0f4" stroke-opacity="0.7" stroke-width="0.8"/><circle cx="701.5" cy="610.8" r="10.7" fill="#a3121b" stroke="#e9f0f4" stroke-opacity="0.7" stroke-width="0.8"/><circle cx="725.4" cy="629.2" r="10.7" fill="#a3121b" stroke="#e9f0f4" stroke-opacity="0.7" stroke-width="0.8"/><circle cx="411.4" cy="589.6" r="8.6" fill="#dc2b24" stroke="#e9f0f4" stroke-opacity="0.7" stroke-width="0.8"/><circle cx="797" cy="633.8" r="10.3" fill="#a3121b" stroke="#e9f0f4" stroke-opacity="0.7" stroke-width="0.8"/><text x="787.52" y="132.7" font-size="11" fill="#231f20" stroke="#231f20" stroke-width="0.22" textLength="77.74" lengthAdjust="spacingAndGlyphs">Change in number</text><text x="787.6" y="146.3" font-size="11" fill="#231f20" stroke="#231f20" stroke-width="0.22" textLength="95.75" lengthAdjust="spacingAndGlyphs">of heat waves per year</text><circle cx="799.7" cy="164.1" r="2.8" fill="#fef0c6"/><text x="815.7" y="167.7" font-size="11" fill="#231f20" stroke="#231f20" stroke-width="0.22" textLength="17.85" lengthAdjust="spacingAndGlyphs">≤ 2</text><circle cx="799.7" cy="184.7" r="4.8" fill="#fdd87a"/><text x="815.88" y="188.3" font-size="11" fill="#231f20" stroke="#231f20" stroke-width="0.22" textLength="32.43" lengthAdjust="spacingAndGlyphs">&gt; 2 – 4</text><circle cx="799.7" cy="205.1" r="6.7" fill="#fec23c"/><text x="816.22" y="208.7" font-size="11" fill="#231f20" stroke="#231f20" stroke-width="0.22" textLength="30.32" lengthAdjust="spacingAndGlyphs">&gt; 4 – 6</text><circle cx="799.7" cy="225.3" r="8.6" fill="#fea61c"/><text x="816.22" y="228.9" font-size="11" fill="#231f20" stroke="#231f20" stroke-width="0.22" textLength="30.31" lengthAdjust="spacingAndGlyphs">&gt; 6 – 8</text><circle cx="799.7" cy="245.6" r="10.3" fill="#fd8a08"/><text x="816.19" y="249.2" font-size="11" fill="#231f20" stroke="#231f20" stroke-width="0.22" textLength="14.66" lengthAdjust="spacingAndGlyphs">&gt; 8</text><circle cx="799.8" cy="266.2" r="5.6" fill="none" stroke="#262626" stroke-width="1.35"/><path d="M795.9 262.3L803.7 270.1M803.7 262.3L795.9 270.1" stroke="#404040" stroke-width="1.05"/><text x="816.32" y="269.4" font-size="11.3" fill="#231f20" stroke="#231f20" stroke-width="0.22" textLength="63.09" lengthAdjust="spacingAndGlyphs">Not statistically</text><text x="816.84" y="282.1" font-size="11.3" fill="#231f20" stroke="#231f20" stroke-width="0.22" textLength="41.93" lengthAdjust="spacingAndGlyphs">significant</text><text x="787.52" y="448.2" font-size="11" fill="#231f20" stroke="#231f20" stroke-width="0.22" textLength="72.1" lengthAdjust="spacingAndGlyphs">Change in length</text><text x="787.6" y="461.8" font-size="11" fill="#231f20" stroke="#231f20" stroke-width="0.22" textLength="76.64" lengthAdjust="spacingAndGlyphs">of season, in days</text><circle cx="799.7" cy="478.6" r="2.8" fill="#fce3d5"/><text x="816.18" y="482.2" font-size="11" fill="#231f20" stroke="#231f20" stroke-width="0.22" textLength="19.92" lengthAdjust="spacingAndGlyphs">≤ 20</text><circle cx="799.7" cy="498.9" r="4.8" fill="#f9ac90"/><text x="816.03" y="502.5" font-size="11" fill="#231f20" stroke="#231f20" stroke-width="0.22" textLength="39.63" lengthAdjust="spacingAndGlyphs">&gt; 20 – 40</text><circle cx="799.7" cy="520.3" r="6.7" fill="#f86649"/><text x="816.03" y="523.9" font-size="11" fill="#231f20" stroke="#231f20" stroke-width="0.22" textLength="40.15" lengthAdjust="spacingAndGlyphs">&gt; 40 – 60</text><circle cx="799.7" cy="540.3" r="8.6" fill="#dc2b24"/><text x="816.03" y="543.9" font-size="11" fill="#231f20" stroke="#231f20" stroke-width="0.22" textLength="40.15" lengthAdjust="spacingAndGlyphs">&gt; 60 – 80</text><circle cx="799.7" cy="561.7" r="10.3" fill="#a3121b"/><text x="816.02" y="565.3" font-size="11" fill="#231f20" stroke="#231f20" stroke-width="0.22" textLength="19.16" lengthAdjust="spacingAndGlyphs">&gt; 80</text><circle cx="799.8" cy="581.1" r="5.6" fill="none" stroke="#262626" stroke-width="1.35"/><path d="M795.9 577.2L803.7 585.0M803.7 577.2L795.9 585.0" stroke="#404040" stroke-width="1.05"/><text x="816.32" y="585.0" font-size="11.3" fill="#231f20" stroke="#231f20" stroke-width="0.22" textLength="63.09" lengthAdjust="spacingAndGlyphs">Not statistically</text><text x="816.84" y="597.7" font-size="11.3" fill="#231f20" stroke="#231f20" stroke-width="0.22" textLength="41.93" lengthAdjust="spacingAndGlyphs">significant</text></svg></body></html>
